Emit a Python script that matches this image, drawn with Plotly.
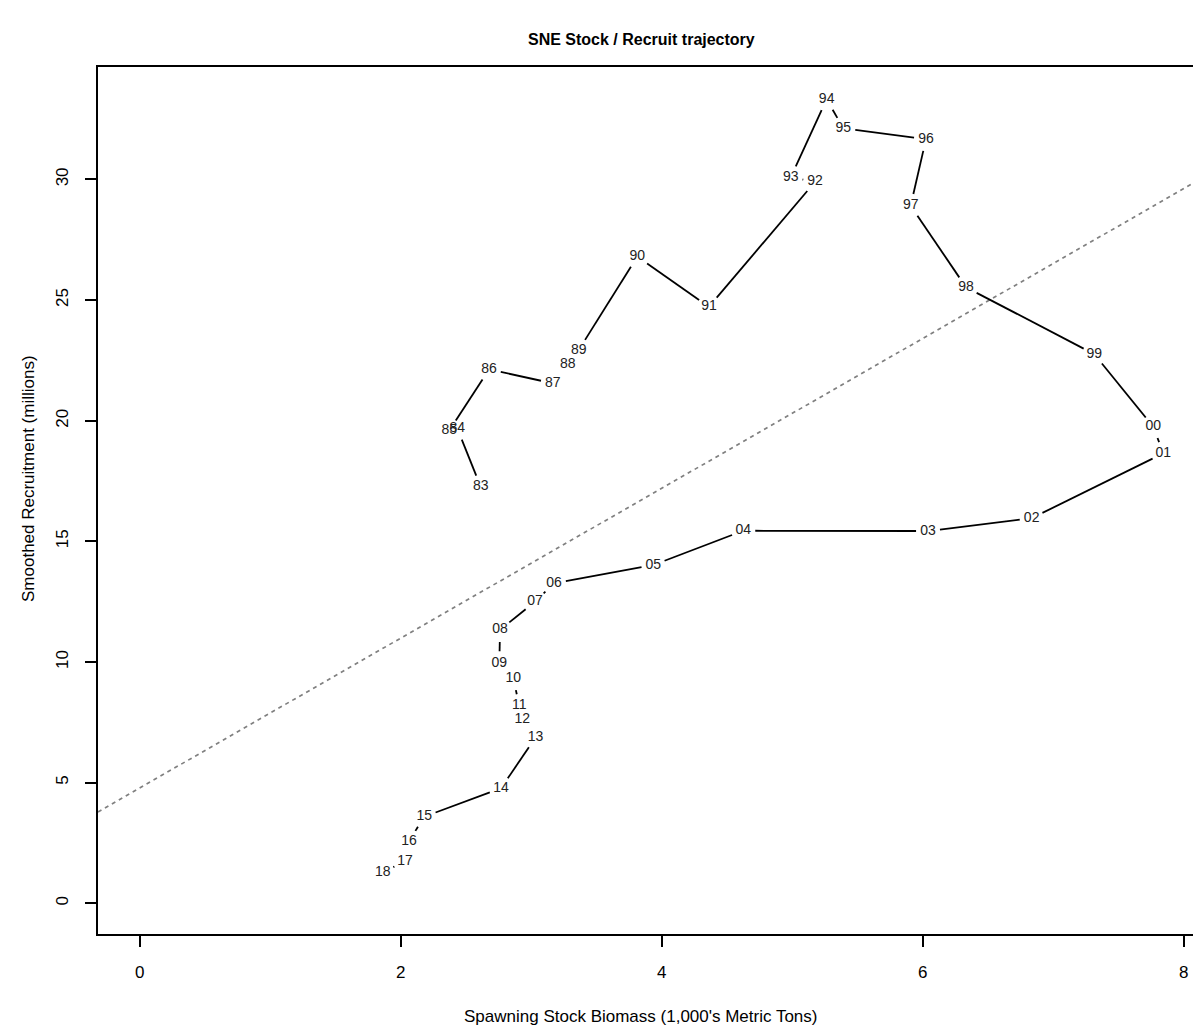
import plotly.graph_objects as go
import math

# ---- data ----
years = ["83", "84", "85", "86", "87", "88", "89", "90", "91", "92", "93", "94", "95", "96",
         "97", "98", "99", "00", "01", "02", "03", "04", "05", "06", "07", "08", "09", "10",
         "11", "12", "13", "14", "15", "16", "17", "18"]
ssb = [2.613, 2.434, 2.372, 2.677, 3.165, 3.280, 3.364, 3.813, 4.362, 5.175, 4.989, 5.264,
       5.392, 6.025, 5.908, 6.332, 7.315, 7.767, 7.844, 6.835, 6.041, 4.625, 3.936, 3.175,
       3.029, 2.761, 2.756, 2.863, 2.909, 2.932, 3.034, 2.769, 2.181, 2.064, 2.033, 1.862]
recruit = [17.26, 19.68, 19.59, 22.13, 21.55, 22.35, 22.93, 26.80, 24.72, 29.90, 30.09, 33.32,
           32.12, 31.67, 28.91, 25.53, 22.76, 19.75, 18.65, 15.96, 15.43, 15.44, 14.02, 13.26,
           12.50, 11.33, 9.95, 9.32, 8.18, 7.60, 6.88, 4.77, 3.59, 2.58, 1.75, 1.27]
ref_intercept = 4.78
ref_slope = 3.105

x_ticks = [0, 2, 4, 6, 8]
y_ticks = [0, 5, 10, 15, 20, 25, 30]

# ---- layout geometry (page body has an 8px margin) ----
OFF = 8
W, H = 1193, 1022
ML, MR, MT, MB = 98 - OFF, 0, 67 - OFF, H - (934 - OFF)
xr = [-0.3195, 8.1326]
yr = [-1.272, 34.66]
pw = W - ML - MR
ph = H - MT - MB
sx = pw / (xr[1] - xr[0])
sy = ph / (yr[1] - yr[0])
FONT = "Liberation Sans, Arial, sans-serif"


def px_to_paper(px, py):
    return (px - OFF - ML) / pw, (H - MB - (py - OFF)) / ph


# line segments with gaps around labels (R type="c" style)
gap = 12.0
seg_x, seg_y = [], []
for i in range(len(ssb) - 1):
    x0p, y0p = ssb[i] * sx, recruit[i] * sy
    x1p, y1p = ssb[i + 1] * sx, recruit[i + 1] * sy
    dx, dy = x1p - x0p, y1p - y0p
    L = math.hypot(dx, dy)
    if L <= 2 * gap + 0.5:
        continue
    ux, uy = dx / L, dy / L
    seg_x += [(x0p + gap * ux) / sx, (x1p - gap * ux) / sx, None]
    seg_y += [(y0p + gap * uy) / sy, (y1p - gap * uy) / sy, None]

fig = go.Figure()

fig.add_trace(go.Scatter(
    x=[xr[0], xr[1]],
    y=[ref_intercept + ref_slope * xr[0], ref_intercept + ref_slope * xr[1]],
    mode="lines", line=dict(color="#808080", width=1.7, dash="4px,4px"),
    hoverinfo="skip", showlegend=False))

fig.add_trace(go.Scatter(
    x=seg_x, y=seg_y, mode="lines",
    line=dict(color="black", width=1.8),
    hoverinfo="skip", showlegend=False))

fig.add_trace(go.Scatter(
    x=ssb, y=recruit, mode="text", text=years,
    textposition="middle center",
    textfont=dict(family=FONT, size=14, color="#222222"),
    showlegend=False, cliponaxis=False))

tx, ty = px_to_paper(641, 40)
ax_x, ax_y = px_to_paper(640, 1016)
ay_x, ay_y = px_to_paper(28, 478)

fig.update_layout(
    width=W, height=H,
    margin=dict(l=ML, r=MR, t=MT, b=MB, pad=0),
    paper_bgcolor="white", plot_bgcolor="white",
    font=dict(family=FONT, color="black"),
    showlegend=False,
    xaxis=dict(range=xr, tickvals=x_ticks, ticktext=[str(v) for v in x_ticks],
               showgrid=False, zeroline=False, showline=True, mirror=True,
               linecolor="black", linewidth=2, ticks="outside", ticklen=11,
               tickwidth=1.5, tickcolor="black", ticklabelstandoff=11,
               tickfont=dict(family=FONT, size=17, color="black")),
    yaxis=dict(range=yr, tickvals=y_ticks, ticktext=[str(v) for v in y_ticks],
               showgrid=False, zeroline=False, showline=True, mirror=False,
               linecolor="black", linewidth=2, ticks="outside", ticklen=11,
               tickwidth=1.5, tickcolor="black", tickangle=-90, ticklabelstandoff=10,
               tickfont=dict(family=FONT, size=17, color="black")),
    annotations=[
        dict(text="<b>SNE Stock / Recruit trajectory</b>", xref="paper", yref="paper",
             x=tx, y=ty, xanchor="center", yanchor="middle",
             showarrow=False, font=dict(family=FONT, size=16, color="black")),
        dict(text="Spawning Stock Biomass (1,000's Metric Tons)", xref="paper", yref="paper",
             x=ax_x, y=ax_y, xanchor="center", yanchor="middle",
             showarrow=False, font=dict(family=FONT, size=17, color="black")),
        dict(text="Smoothed Recruitment (millions)", xref="paper", yref="paper",
             x=ay_x, y=ay_y, xanchor="center", yanchor="middle",
             textangle=-90, showarrow=False, font=dict(family=FONT, size=17, color="black")),
    ],
)

fig.write_html("out.html")
